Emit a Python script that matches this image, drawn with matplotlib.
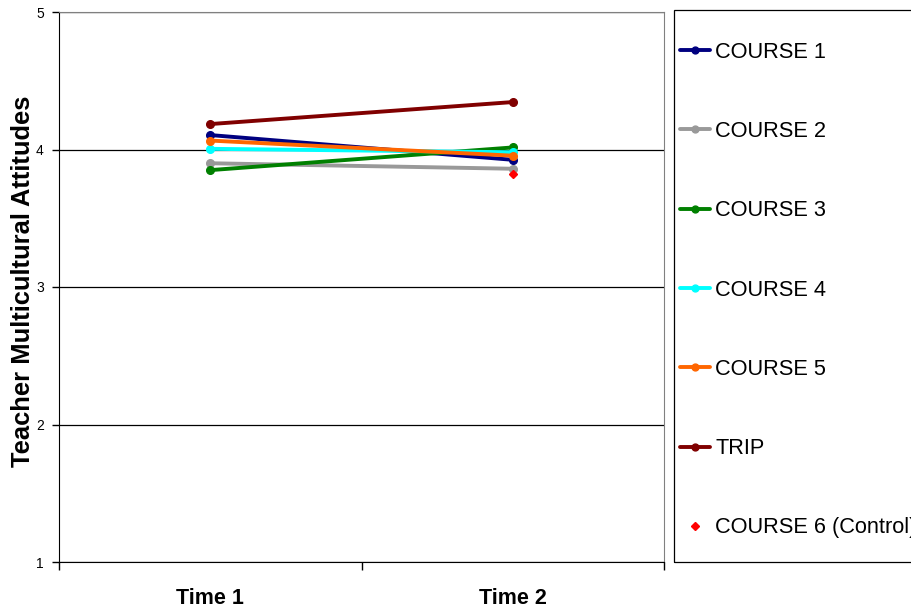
import matplotlib
matplotlib.use("Agg")
import matplotlib.pyplot as plt
from matplotlib.patches import Rectangle

plt.rcParams['font.family'] = ['Liberation Sans', 'DejaVu Sans']

times = ["Time 1", "Time 2"]
course1 = [4.105, 3.925]
course2 = [3.90, 3.86]
course3 = [3.85, 4.015]
course4 = [4.005, 3.98]
course5 = [4.065, 3.955]
trip = [4.185, 4.345]
course6_t2 = [3.825]

series = [
    ("COURSE 1", course1, "#000080"),
    ("COURSE 2", course2, "#999999"),
    ("COURSE 3", course3, "#008000"),
    ("COURSE 4", course4, "#00FFFF"),
    ("COURSE 5", course5, "#FF6600"),
    ("TRIP", trip, "#800000"),
]

W, H = 912, 607
fig = plt.figure(figsize=(W/100, H/100), dpi=100)
ax = fig.add_axes([59/W, 1-562/H, (664-59)/W, (562-12)/H])

xpos = [0.5, 1.5]
handles = []
for name, vals, col in series:
    h, = ax.plot(xpos, vals, color=col, lw=2.8, marker='o', ms=5.5,
                 solid_capstyle='round', label=name, zorder=3)
    handles.append(h)
h6, = ax.plot([xpos[1]], course6_t2, ls='none', marker='D', ms=4.5,
              color='#FF0000', label="COURSE 6 (Control)", zorder=3)
handles.append(h6)

ax.set_xlim(0, 2)
ax.set_ylim(1, 5)
ax.set_yticks([1, 2, 3, 4, 5])
ax.yaxis.grid(True, color='black', lw=0.9, zorder=1)
ax.set_axisbelow(True)
ax.set_xticks([0, 1, 2])
ax.set_xticklabels([])
ax.set_xticks(xpos, minor=True)
ax.set_xticklabels(times, minor=True, fontsize=15.5, fontweight='bold')
ax.tick_params(axis='x', which='minor', length=0, pad=18.5)
ax.tick_params(axis='x', which='major', length=6, direction='out', width=1)
ax.tick_params(axis='y', length=5, direction='out', width=1, labelsize=10, pad=6)

for s in ['top', 'right']:
    ax.spines[s].set_color('#808080')
for s in ['left', 'bottom']:
    ax.spines[s].set_color('black')

ax.set_ylabel("Teacher Multicultural Attitudes", fontsize=18.4, fontweight='bold')
ax.yaxis.set_label_coords(-0.04, 0.51)

# legend frame
fig.patches.append(Rectangle((674/W, 1-562/H), (W+10-674)/W, (562-10)/H,
                             transform=fig.transFigure, fill=False,
                             edgecolor='black', lw=0.9))

leg = fig.legend(handles=handles, loc='center left',
                 bbox_to_anchor=(680/W, 1-290/H), bbox_transform=fig.transFigure,
                 borderaxespad=0, borderpad=0, fontsize=15.7, frameon=False,
                 handlelength=1.37, handletextpad=0.24, labelspacing=2.675,
                 markerscale=0.9)

fig.savefig("out.png", dpi=100)
